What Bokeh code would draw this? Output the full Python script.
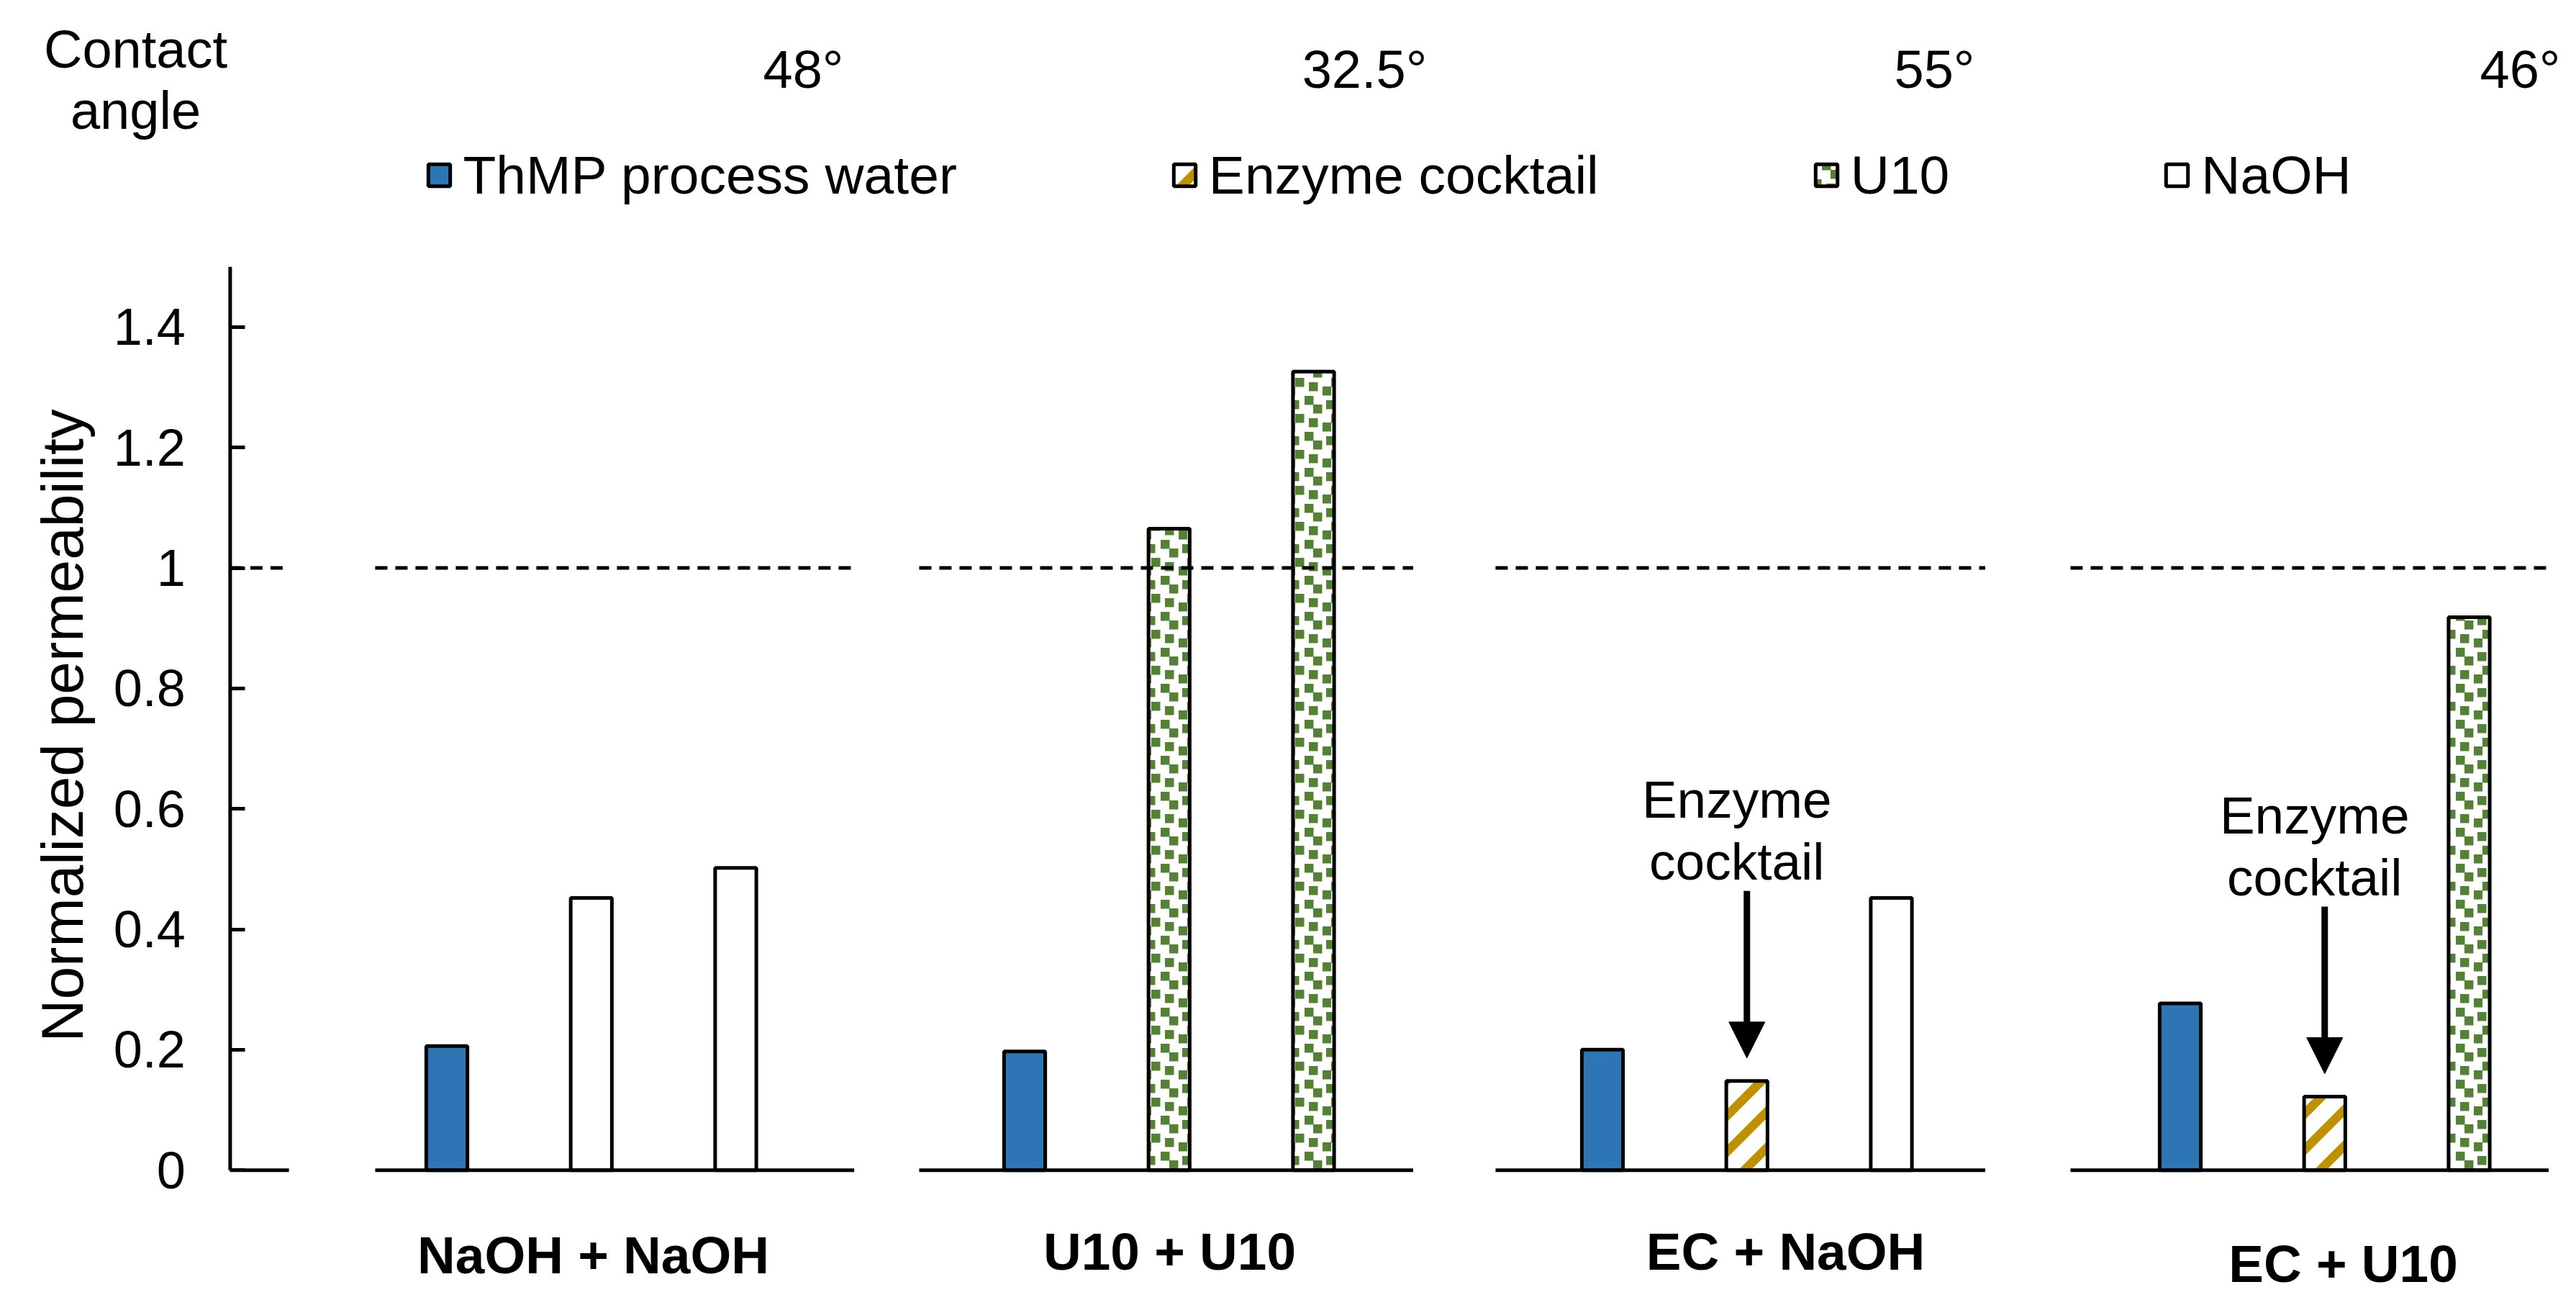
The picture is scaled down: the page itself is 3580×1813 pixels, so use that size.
from bokeh.plotting import figure
from bokeh.models import (Range1d, FixedTicker, LabelSet, ColumnDataSource, Legend,
                          LegendItem, Arrow, NormalHead, CanvasTexture)
from bokeh.core.properties import value
from bokeh.embed import file_html
from bokeh.resources import INLINE

# ---------------- data ----------------
groups = ["NaOH + NaOH", "U10 + U10", "EC + NaOH", "EC + U10"]
contact_angles = ["48°", "32.5°", "55°", "46°"]
series_names = ["ThMP process water", "Enzyme cocktail", "U10", "NaOH"]
bar_series = [
    ["ThMP process water", "NaOH", "NaOH"],
    ["ThMP process water", "U10", "U10"],
    ["ThMP process water", "Enzyme cocktail", "NaOH"],
    ["ThMP process water", "Enzyme cocktail", "U10"],
]
bar_values = [
    [0.206, 0.452, 0.502],
    [0.197, 1.065, 1.326],
    [0.200, 0.148, 0.452],
    [0.277, 0.122, 0.918],
]
y_ticks = [0, 0.2, 0.4, 0.6, 0.8, 1, 1.2, 1.4]
y_tick_labels = ["0", "0.2", "0.4", "0.6", "0.8", "1", "1.2", "1.4"]
y_axis_extent = (0, 1.5)
reference_level = 1
annotation_lines = ["Enzyme", "cocktail"]
annotated_series = "Enzyme cocktail"

# ---------------- layout (page pixels) ----------------
FONT = "Liberation Sans"
M = 0                                   # bokeh's page template has no body margin
FIG_W, FIG_H = 3576, 1809
SLOT0_PX, SLOT_PX = 419.75, 200.75      # x pixel of slot 0, pixels per slot
BASE_PX, UNIT_PX = 1625.2, 836.7        # y pixel of value 0, pixels per unit


def x_at(px):
    return (px - SLOT0_PX) / SLOT_PX


def y_at(py):
    return (BASE_PX - py) / UNIT_PX


X_RANGE = (x_at(M), x_at(M + FIG_W))
Y_RANGE = (y_at(M + FIG_H), y_at(M))
AXIS_X = -0.5
AXIS_LABEL_CENTER_PX = 1007.6

SLOTS_PER_GROUP = 4
BAR_W = 0.285
spans = [(-0.5, -0.093), (0.504, 3.82), (4.27, 7.69), (8.26, 11.65), (12.24, 15.55)]
angle_x_px = [1116, 1896, 2688, 3502]
angle_base_px = 121
group_x_px = [824, 1625, 2481, 3256]
group_base_px = [1768, 1763, 1763, 1780]

BLUE = "#2E75B6"
GOLD = "#BF9000"
GREEN = "#548235"
TILE = 50

# pattern tiles: the canvas is sized explicitly inside the texture code
confetti = CanvasTexture(code="""
const T = %d;
ctx.canvas.width = T; ctx.canvas.height = T;
ctx.setTransform(1, 0, 0, 1, 0, 0);
ctx.clearRect(0, 0, T, T);
ctx.fillStyle = "%s";
const sq = [[13,0],[25,12],[43,6],[-7,6],[0,25],[19,31],[38,37]];
for (const p of sq) { ctx.fillRect(p[0], p[1], 12.5, 12.5); }
""" % (TILE, GREEN))
stripes = CanvasTexture(code="""
const s = %d;
ctx.canvas.width = s; ctx.canvas.height = s;
ctx.setTransform(1, 0, 0, 1, 0, 0);
ctx.clearRect(0, 0, s, s);
ctx.strokeStyle = "%s";
ctx.lineWidth = 12.5;
ctx.lineCap = "square";
ctx.beginPath();
ctx.moveTo(0, s); ctx.lineTo(s, 0);
ctx.moveTo(-s/2, s/2); ctx.lineTo(s/2, -s/2);
ctx.moveTo(s/2, 3*s/2); ctx.lineTo(3*s/2, s/2);
ctx.stroke();
""" % (TILE, GOLD))

styles = {
    "ThMP process water": dict(fill_color=BLUE),
    "Enzyme cocktail": dict(fill_color="white", hatch_pattern=value("stripes"), hatch_color=GOLD,
                            hatch_scale=TILE, hatch_weight=12, hatch_extra={"stripes": stripes}),
    "U10": dict(fill_color="white", hatch_pattern=value("confetti"), hatch_color=GREEN,
                hatch_scale=TILE, hatch_weight=1, hatch_extra={"confetti": confetti}),
    "NaOH": dict(fill_color="white"),
}

p = figure(width=FIG_W, height=FIG_H, output_backend="svg", toolbar_location=None,
           x_range=Range1d(*X_RANGE), y_range=Range1d(*Y_RANGE),
           x_axis_type=None, min_border=0)
p.outline_line_color = None
p.grid.visible = False
p.background_fill_color = "white"
p.border_fill_color = "white"

# y axis at the left edge of the data area; bounds chosen so the axis title is
# centred as in the reference, the visible axis line is drawn as a segment
label_center = y_at(AXIS_LABEL_CENTER_PX)
ax = p.yaxis[0]
ax.fixed_location = AXIS_X
ax.bounds = (2 * label_center - y_axis_extent[1], y_axis_extent[1])
ax.ticker = FixedTicker(ticks=y_ticks)
ax.major_label_overrides = {t: l for t, l in zip(y_ticks, y_tick_labels)}
ax.axis_line_color = None
ax.major_tick_line_width = 5
ax.major_tick_in = 21
ax.major_tick_out = 0
ax.minor_tick_line_color = None
ax.major_label_standoff = 62
ax.major_label_text_font = FONT
ax.major_label_text_font_size = "72px"
ax.major_label_text_color = "black"
ax.axis_label = "Normalized permeability"
ax.axis_label_text_font = FONT
ax.axis_label_text_font_size = "82px"
ax.axis_label_text_font_style = "normal"
ax.axis_label_text_color = "black"
ax.axis_label_standoff = 22
p.segment(x0=[AXIS_X], x1=[AXIS_X], y0=[y_axis_extent[0]], y1=[y_axis_extent[1]],
          line_color="black", line_width=5)

# bars
renderers = {}
for name in series_names:
    xs, tops = [], []
    for g, (sers, vals) in enumerate(zip(bar_series, bar_values)):
        for i, (s, v) in enumerate(zip(sers, vals)):
            if s == name:
                xs.append(1 + SLOTS_PER_GROUP * g + i)
                tops.append(v)
    src = ColumnDataSource(dict(x=xs, top=tops))
    renderers[name] = p.vbar(x="x", top="top", bottom=0, width=BAR_W, source=src,
                             line_color="black", line_width=5, **styles[name])

# baseline and reference line segments
x0s = [a for a, b in spans]
x1s = [b for a, b in spans]
p.segment(x0=x0s, x1=x1s, y0=[0] * len(spans), y1=[0] * len(spans),
          line_color="black", line_width=5)
p.segment(x0=x0s, x1=x1s, y0=[reference_level] * len(spans), y1=[reference_level] * len(spans),
          line_color="black", line_width=5, line_dash="17 11")

# annotations: arrows to enzyme cocktail bars
for g, (sers, vals) in enumerate(zip(bar_series, bar_values)):
    for i, (s, v) in enumerate(zip(sers, vals)):
        if s == annotated_series:
            xs = 1 + SLOTS_PER_GROUP * g + i
            tip = v + 32 / UNIT_PX
            tail = tip + 232 / UNIT_PX
            p.add_layout(Arrow(end=NormalHead(size=50, fill_color="black", line_color="black", line_width=1),
                               x_start=xs, y_start=tail, x_end=xs, y_end=tip,
                               line_width=9, line_color="black"))
            src = ColumnDataSource(dict(x=[xs, xs], y=[tail + 102 / UNIT_PX, tail + 16 / UNIT_PX],
                                        t=annotation_lines))
            p.add_layout(LabelSet(x="x", y="y", text="t", source=src, x_offset=-14,
                                  text_align="center", text_baseline="alphabetic",
                                  text_font=value(FONT), text_font_size="73px", text_color="black"))

# group labels
gsrc = ColumnDataSource(dict(x=[x_at(v) for v in group_x_px],
                             y=[y_at(v) for v in group_base_px], t=groups))
p.add_layout(LabelSet(x="x", y="y", text="t", source=gsrc, text_align="center",
                      text_baseline="alphabetic", text_font=value(FONT), text_font_size="73px",
                      text_font_style="bold", text_color="black"))

# contact angles
asrc = ColumnDataSource(dict(x=[x_at(v) for v in angle_x_px],
                             y=[y_at(angle_base_px)] * len(contact_angles), t=contact_angles))
p.add_layout(LabelSet(x="x", y="y", text="t", source=asrc, text_align="center",
                      text_baseline="alphabetic", text_font=value(FONT), text_font_size="74px",
                      text_color="black"))
csrc = ColumnDataSource(dict(x=[x_at(188)] * 2, y=[y_at(93), y_at(178)], t=["Contact", "angle"]))
p.add_layout(LabelSet(x="x", y="y", text="t", source=csrc, text_align="center",
                      text_baseline="alphabetic", text_font=value(FONT), text_font_size="74px",
                      text_color="black"))

# legend (location = offset of its bottom-left corner from the frame's bottom-left)
LEG_LEFT_PX, LEG_CENTER_PX, LEG_H = 590.5, 243, 85
legend = Legend(items=[LegendItem(label=n, renderers=[renderers[n]]) for n in series_names],
                orientation="horizontal",
                location=(LEG_LEFT_PX - M, (M + FIG_H) - (LEG_CENTER_PX + LEG_H / 2)),
                glyph_width=38, glyph_height=38, label_standoff=15, spacing=297,
                padding=0, margin=0, border_line_color=None, background_fill_alpha=0,
                label_text_font=FONT, label_text_font_size="75px", label_text_color="black")
p.add_layout(legend)

open("out.html", "w").write(file_html(p, INLINE))
